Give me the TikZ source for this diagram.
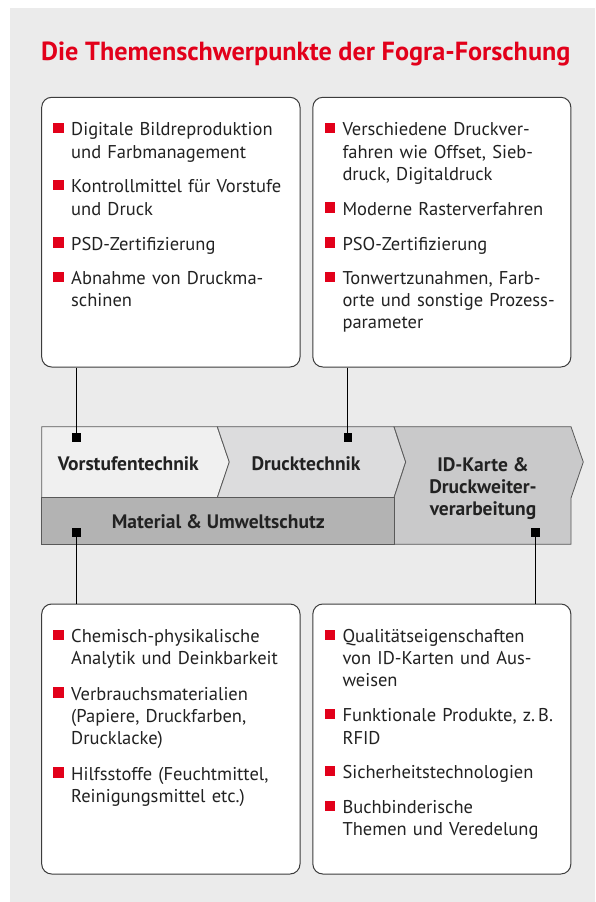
\documentclass[tikz,border=0pt]{standalone}
\usepackage{fontspec}
\setmainfont{PT Sans}
\definecolor{bg}{HTML}{EBEBEB}
\definecolor{fograred}{HTML}{E2001A}
\definecolor{txt}{HTML}{222222}
\definecolor{edge}{HTML}{3C3C3C}
\definecolor{cVor}{HTML}{F0F0F0}
\definecolor{cDruck}{HTML}{DCDCDD}
\definecolor{cID}{HTML}{C9C9CA}
\definecolor{cMat}{HTML}{B3B3B3}
\newcommand\myitem[4]{%
  \node[itm] (#1) at (#2,#3) {#4};
  \fill[bul] ([shift={(-17.7,-2.4)}]#1.base west) rectangle ++(10.8,-10.2);}
\begin{document}
\begin{tikzpicture}[x=1pt,y=-1pt,
  box/.style={draw=edge,line width=1pt,fill=white,rounded corners=10pt,inner sep=0pt},
  itm/.style={anchor=base west,inner sep=0pt,text width=240pt,align=left,text=txt,
    font=\fontsize{18.5}{22.3}\selectfont},
  bul/.style={fill=fograred},
  band/.style={draw=edge!85,line width=0.8pt,line join=miter},
  blabel/.style={inner sep=0pt,text=txt,font=\fontsize{19.5}{22}\selectfont\bfseries},
  sq/.style={fill=black,inner sep=0pt,minimum size=8.4pt},
  conn/.style={draw=black,line width=1.2pt}]
\useasboundingbox (0,0) rectangle (595,902);
\fill[bg] (10,8) rectangle (595,902);
% title
\node[anchor=base west,inner sep=0pt,text=fograred,font=\fontsize{26.2}{30}\selectfont\bfseries] (title) at (41,60.7) {Die Themenschwerpunkte der Fogra-Forschung};
% boxes
\node[box,minimum width=258.3pt,minimum height=269.7pt] (b1) at (170.85,232.15) {};
\node[box,minimum width=258.0pt,minimum height=269.7pt] (b2) at (441.85,232.15) {};
\node[box,minimum width=258.3pt,minimum height=270pt] (b3) at (170.85,739) {};
\node[box,minimum width=258.0pt,minimum height=270pt] (b4) at (441.85,739) {};
% band
\filldraw[band,fill=cVor] (41.7,426.7) -- (217.3,426.7) -- (229.3,462) -- (217.3,497.7) -- (41.7,497.7) -- cycle;
\filldraw[band,fill=cDruck] (217.3,426.7) -- (394,426.7) -- (405.7,462) -- (394,497.7) -- (217.3,497.7) -- (229.3,462) -- cycle;
\filldraw[band,fill=cID] (394,426.7) -- (571,426.7) -- (583.3,462) -- (571,498) -- (571,544.3) -- (394,544.3) -- (394,497.7) -- (405.7,462) -- cycle;
\filldraw[band,fill=cMat] (41.7,497.7) rectangle (394,544.3);
\node[blabel,anchor=base west] (vor) at (57.7,470) {Vorstufentechnik};
\node[blabel,anchor=base] (druck) at (306,470) {Drucktechnik};
\node[blabel,anchor=base] (mat) at (218.3,528.3) {Material \& Umweltschutz};
\node[blabel,anchor=base,align=center] (idk) at (483,515.3) {ID-Karte \&\\Druckweiter-\\verarbeitung};
% connectors
\node[sq] (s1) at (76.5,437.5) {};
\node[sq] (s2) at (347.7,437.5) {};
\node[sq] (s3) at (76.5,532.5) {};
\node[sq] (s4) at (535.5,532.5) {};
\draw[conn] (s1 |- b1.south) -- (s1);
\draw[conn] (s2 |- b2.south) -- (s2);
\draw[conn] (s3) -- (s3 |- b3.north);
\draw[conn] (s4) -- (s4 |- b4.north);
% box texts
\myitem{a1}{71}{135.7}{Digitale Bildreproduktion\\und Farbmanagement}
\myitem{a2}{71}{192.7}{Kontrollmittel für Vorstufe\\und Druck}
\myitem{a3}{71}{250}{PSD-Zertifizierung}
\myitem{a4}{71}{284.3}{Abnahme von Druckma-\\schinen}
\myitem{c1}{342.3}{135.7}{Verschiedene Druckver-\\fahren wie Offset, Sieb-\\druck, Digitaldruck}
\myitem{c2}{342.3}{215}{Moderne Rasterverfahren}
\myitem{c3}{342.3}{250}{PSO-Zertifizierung}
\myitem{c4}{342.3}{284.3}{Tonwertzunahmen, Farb-\\orte und sonstige Prozess-\\parameter}
\myitem{d1}{71}{642.3}{Chemisch-physikalische\\Analytik und Deinkbarkeit}
\myitem{d2}{71}{700}{Verbrauchsmaterialien\\(Papiere, Druckfarben,\\Drucklacke)}
\myitem{d3}{71}{780}{Hilfsstoffe (Feuchtmittel,\\Reinigungsmittel etc.)}
\myitem{e1}{342.3}{642.3}{Qualitätseigenschaften\\von ID-Karten und Aus-\\weisen}
\myitem{e2}{342.3}{721.7}{Funktionale Produkte, z.\,B.\\RFID}
\myitem{e3}{342.3}{778.3}{Sicherheitstechnologien}
\myitem{e4}{342.3}{813.3}{Buchbinderische\\Themen und Veredelung}
\end{tikzpicture}
\end{document}
